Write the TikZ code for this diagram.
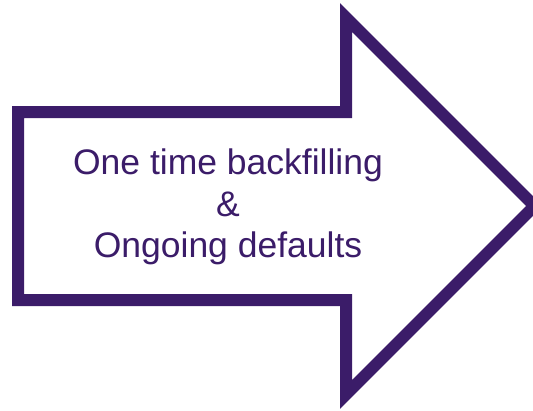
\documentclass[tikz,border=0pt]{standalone}
\usepackage{fontspec}
\setmainfont{Liberation Sans}
\usepackage{xcolor}
\definecolor{ArrowPurple}{HTML}{3B1C69}
\usetikzlibrary{
  arrows.meta,
  positioning
}

\begin{document}
\begin{tikzpicture}[
    x=1pt, y=-1pt,
    arrow outline/.style={draw=ArrowPurple, line width=12pt, line join=miter, fill=white},
    arrow label/.style={align=center, text=ArrowPurple, font=\fontsize{35.5}{41.5}\selectfont}
]

% Fix the page to the size of the reference
\useasboundingbox (0,0) rectangle (533,410);

% Corners of the arrow outline
\coordinate (bodyTL) at (18,112);
\coordinate (bodyBL) at (18,300);
\coordinate (neckT) at (346,112);
\coordinate (neckB) at (346,300);
\coordinate (headT) at (346,17.5);
\coordinate (headB) at (346,394.5);
\coordinate (tip) at (534.5,206);

% The big arrow
\draw[arrow outline] (bodyTL) -- (neckT) -- (headT) -- (tip) -- (headB)
    -- (neckB) -- (bodyBL) -- cycle;

% Text inside the arrow
\node[arrow label] (label) at (228,207) {One time backfilling\\ \&\\ Ongoing defaults};

\end{tikzpicture}
\end{document}
